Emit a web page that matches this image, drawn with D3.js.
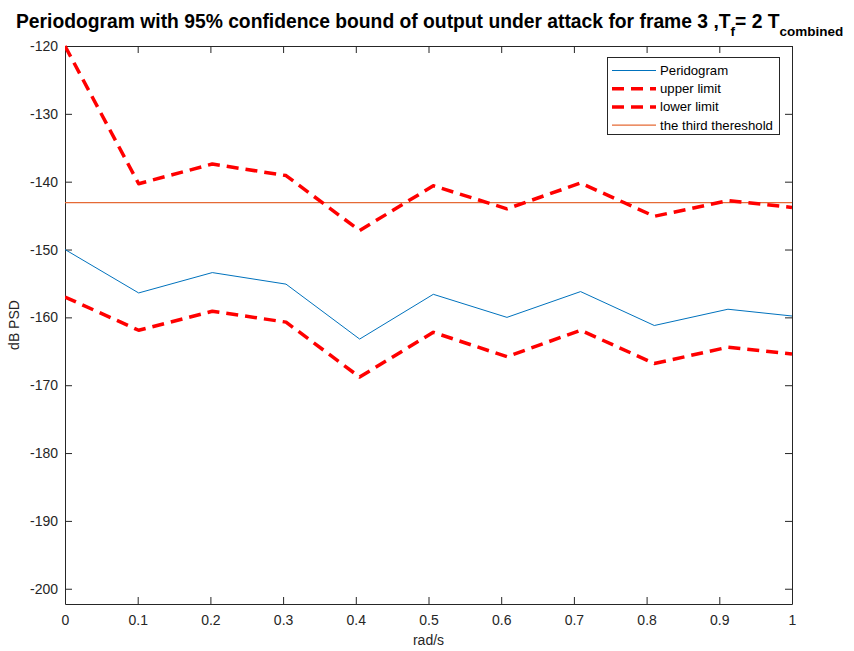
<!DOCTYPE html>
<html>
<head>
<meta charset="utf-8">
<script src="https://cdn.jsdelivr.net/npm/d3@7"></script>
<style>
  body { margin: 0; background: #fff; }
  svg { display: block; font-family: "Liberation Sans", Arial, Helvetica, sans-serif; }
</style>
</head>
<body>
<svg id="chart" width="854" height="651"></svg>
<script>
// Frequency grid (rad/s)
const freq = [0, 0.1013, 0.2026, 0.3040, 0.4053, 0.5066, 0.6079, 0.7092, 0.8106, 0.9119, 1.0];
// Periodogram estimate (dB)
const periodogram = [-150.0, -156.4, -153.4, -155.1, -163.2, -156.6, -160.0, -156.2, -161.2, -158.8, -159.8];
// 95% confidence bounds (dB)
const upperLimit = [-120.0, -140.3, -137.4, -139.1, -147.2, -140.6, -144.0, -140.2, -145.1, -142.8, -143.8];
const lowerLimit = [-157.0, -161.9, -159.1, -160.7, -168.8, -162.2, -165.8, -161.9, -166.8, -164.4, -165.4];
// Detection threshold (dB)
const threshold = -143.1;

const xTicks = [0, 0.1, 0.2, 0.3, 0.4, 0.5, 0.6, 0.7, 0.8, 0.9, 1];
const yTicks = [-200, -190, -180, -170, -160, -150, -140, -130, -120];
const legendLabels = ["Peridogram", "upper limit", "lower limit", "the third thereshold"];

const svg = d3.select("#chart");
const m = { left: 65, right: 792, top: 46, bottom: 604 };
const axisColor = "#262626";

const x = d3.scaleLinear().domain([0, 1]).range([m.left, m.right]);
const y = d3.scaleLinear().domain([-202.25, -120]).range([m.bottom, m.top]);

svg.append("defs").append("clipPath").attr("id", "plotClip")
  .append("rect").attr("x", m.left).attr("y", m.top - 2)
  .attr("width", m.right - m.left).attr("height", m.bottom - m.top + 2);

// Axes (box with inward ticks on all four sides)
const tickLen = 7;
const fmtX = d => d === 0 || d === 1 ? String(d) : d.toFixed(1);

const gBottom = svg.append("g").attr("transform", `translate(0,${m.bottom})`)
  .call(d3.axisBottom(x).tickValues(xTicks).tickFormat(fmtX).tickSizeInner(-tickLen).tickSizeOuter(0).tickPadding(11));
const gTop = svg.append("g").attr("transform", `translate(0,${m.top})`)
  .call(d3.axisTop(x).tickValues(xTicks).tickFormat("").tickSizeInner(-tickLen).tickSizeOuter(0));
const gLeft = svg.append("g").attr("transform", `translate(${m.left},0)`)
  .call(d3.axisLeft(y).tickValues(yTicks).tickSizeInner(-tickLen).tickSizeOuter(0).tickPadding(7));
const gRight = svg.append("g").attr("transform", `translate(${m.right},0)`)
  .call(d3.axisRight(y).tickValues(yTicks).tickFormat("").tickSizeInner(-tickLen).tickSizeOuter(0));

[gBottom, gTop, gLeft, gRight].forEach(g => {
  g.select(".domain").attr("stroke", axisColor).attr("stroke-width", 1);
  g.selectAll(".tick line").attr("stroke", axisColor).attr("stroke-width", 1);
  g.selectAll(".tick text").attr("fill", axisColor).attr("font-size", 14)
    .attr("font-family", "Liberation Sans, Arial, sans-serif");
});
gLeft.selectAll(".tick text").text(d => String(d));

const plot = svg.append("g").attr("clip-path", "url(#plotClip)");
const line = d3.line().x((d, i) => x(freq[i])).y(d => y(d));

// Threshold line
plot.append("line")
  .attr("x1", x(0)).attr("x2", x(1))
  .attr("y1", y(threshold)).attr("y2", y(threshold))
  .attr("stroke", "#E56A35").attr("stroke-width", 1.2);

// Periodogram
plot.append("path").datum(periodogram)
  .attr("d", line).attr("fill", "none")
  .attr("stroke", "#0072BD").attr("stroke-width", 1);

// Confidence bounds
[upperLimit, lowerLimit].forEach(series => {
  plot.append("path").datum(series)
    .attr("d", line).attr("fill", "none")
    .attr("stroke", "#FF0000").attr("stroke-width", 3.5)
    .attr("stroke-dasharray", "12,7").attr("stroke-linejoin", "round");
});

// Legend
const lg = svg.append("g");
lg.append("rect").attr("x", 607.5).attr("y", 57.5).attr("width", 172).attr("height", 77)
  .attr("fill", "#fff").attr("stroke", axisColor).attr("stroke-width", 1);
const legendStyles = [
  { stroke: "#0072BD", width: 1, dash: null },
  { stroke: "#FF0000", width: 3.5, dash: "12,7" },
  { stroke: "#FF0000", width: 3.5, dash: "12,7" },
  { stroke: "#E56A35", width: 1.2, dash: null }
];
legendLabels.forEach((label, i) => {
  const yy = 70.5 + i * 18.2;
  lg.append("line").attr("x1", 612).attr("x2", 656).attr("y1", yy).attr("y2", yy)
    .attr("stroke", legendStyles[i].stroke).attr("stroke-width", legendStyles[i].width)
    .attr("stroke-dasharray", legendStyles[i].dash);
  lg.append("text").attr("x", 660).attr("y", yy + 4.5)
    .attr("font-size", 13.2).attr("fill", "#000").text(label);
});

// Axis labels
svg.append("text").attr("x", (m.left + m.right) / 2).attr("y", 645)
  .attr("text-anchor", "middle").attr("font-size", 14).attr("fill", axisColor).text("rad/s");
svg.append("text").attr("transform", `translate(19,${(m.top + m.bottom) / 2}) rotate(-90)`)
  .attr("text-anchor", "middle").attr("font-size", 14).attr("fill", axisColor).text("dB PSD");

// Title with subscripts
const title = svg.append("text").attr("x", 16).attr("y", 28.3)
  .attr("text-anchor", "start").attr("font-size", 19.3).attr("font-weight", "bold").attr("fill", "#000");
title.append("tspan").text("Periodogram with 95% confidence bound of output under attack for frame 3 ,T");
title.append("tspan").attr("dy", 7.5).attr("font-size", 13.5).text("f");
title.append("tspan").attr("dy", -7.5).text("= 2 T");
title.append("tspan").attr("dy", 7.5).attr("font-size", 13.5).text("combined");
</script>
</body>
</html>
